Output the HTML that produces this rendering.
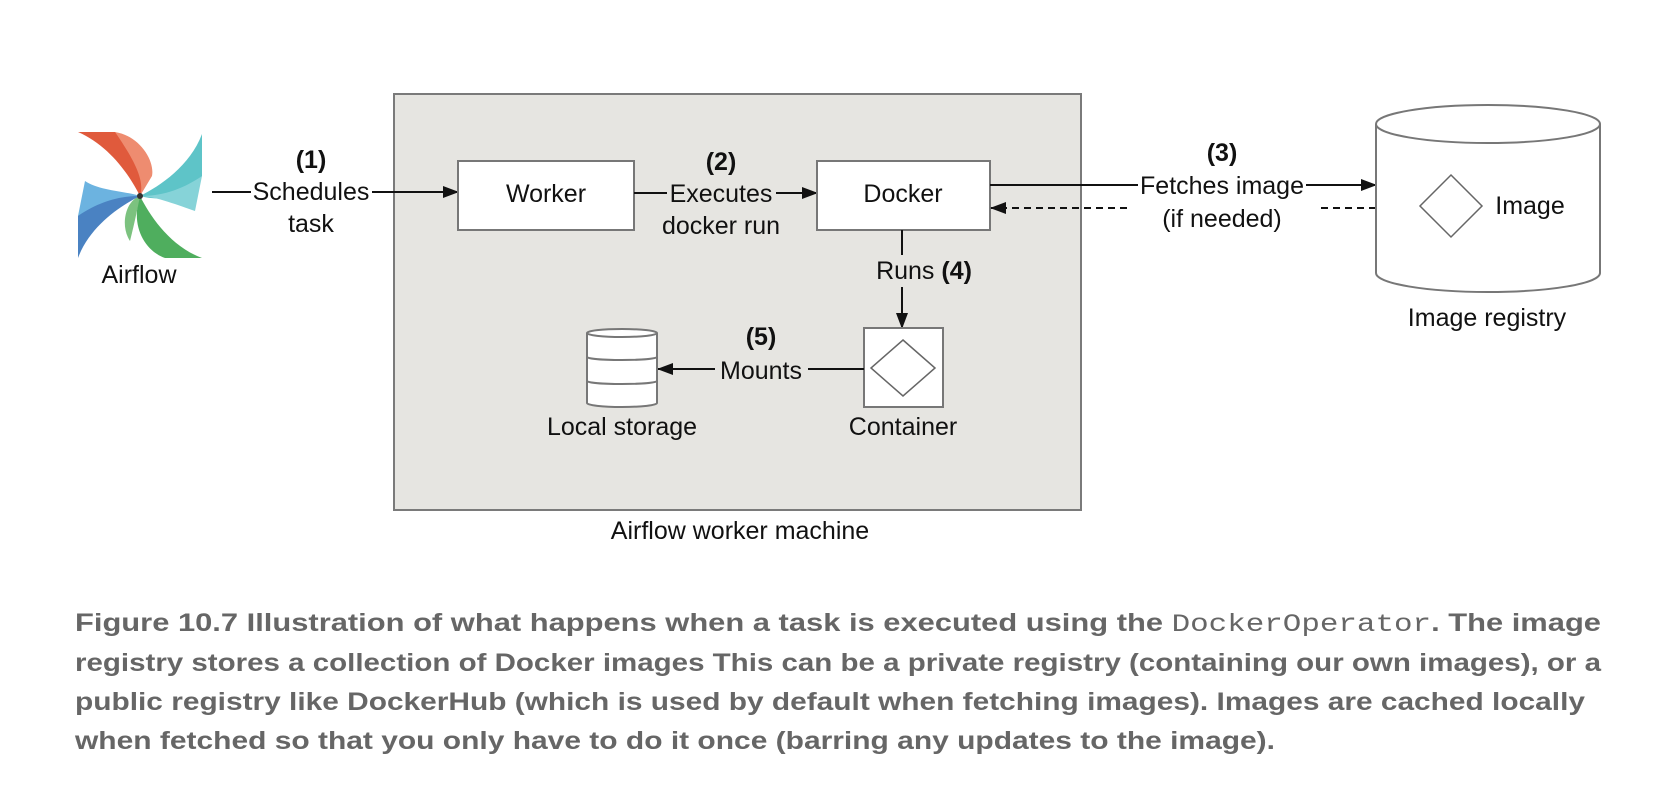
<!DOCTYPE html>
<html><head><meta charset="utf-8"><style>
html,body{margin:0;padding:0;background:#fff;width:1674px;height:792px;overflow:hidden}
svg{display:block}
text{font-family:"Liberation Sans",Arial,sans-serif;fill:#111}
.l{font-size:25px;text-anchor:middle}
.b{font-weight:bold}
.cap{font-size:25px;font-weight:bold;fill:#666}
</style></head><body>
<svg width="1674" height="792" viewBox="0 0 1674 792" xmlns="http://www.w3.org/2000/svg">
<defs>
<marker id="ah" markerWidth="16" markerHeight="12" refX="15" refY="6" orient="auto" markerUnits="userSpaceOnUse">
<path d="M0,0 L16,6 L0,12 Z" fill="#111"/></marker>
</defs>
<rect x="394" y="94" width="687" height="416" fill="#e6e5e1" stroke="#7a7a7a" stroke-width="2"/>
<text class="l" x="740" y="539">Airflow worker machine</text>

<g transform="translate(140,196)">
<path d="M0,0 C-10,-20 -30,-50 -62,-64 L-25,-64 C-5,-55 10,-30 0,0Z" fill="#e05a3c"/>
<path d="M0,0 C5,-15 -5,-35 -25,-64 C0,-60 15,-35 12,-20Z" fill="#ee8c70"/>
<path d="M0,0 C20,-10 50,-30 62,-62 L62,-20 C55,-5 30,8 0,0Z" fill="#5ec4c8"/>
<path d="M0,0 C15,0 40,10 55,15 L62,-20 C40,-5 20,0 0,0Z" fill="#86d3d8"/>
<path d="M0,0 C10,20 30,50 62,62 L25,62 C5,55 -10,30 0,0Z" fill="#4fae5e"/>
<path d="M0,0 C-15,5 -20,30 -10,45 C-5,25 -2,10 0,0Z" fill="#7cc27f"/>
<path d="M0,0 C-20,10 -50,30 -62,62 L-62,20 C-55,5 -30,-8 0,0Z" fill="#4a82c2"/>
<path d="M0,0 C-15,-5 -40,-5 -55,-15 L-62,20 C-40,5 -20,0 0,0Z" fill="#6cb3e0"/>
<circle cx="0" cy="0" r="3" fill="#333"/>
</g>
<text class="l" x="139" y="283">Airflow</text>

<text class="l b" x="311" y="168">(1)</text>
<text class="l" x="311" y="200">Schedules</text>
<text class="l" x="311" y="232">task</text>
<line x1="212" y1="192" x2="251" y2="192" stroke="#111" stroke-width="2"/>
<line x1="372" y1="192" x2="458" y2="192" stroke="#111" stroke-width="2" marker-end="url(#ah)"/>

<rect x="458" y="161" width="176" height="69" fill="#fff" stroke="#777" stroke-width="2"/>
<text class="l" x="546" y="202">Worker</text>

<text class="l b" x="721" y="170">(2)</text>
<text class="l" x="721" y="202">Executes</text>
<text class="l" x="721" y="234">docker run</text>
<line x1="634" y1="193" x2="667" y2="193" stroke="#111" stroke-width="2"/>
<line x1="776" y1="193" x2="817" y2="193" stroke="#111" stroke-width="2" marker-end="url(#ah)"/>

<rect x="817" y="161" width="173" height="69" fill="#fff" stroke="#777" stroke-width="2"/>
<text class="l" x="903" y="202">Docker</text>

<text class="l b" x="1222" y="161">(3)</text>
<text class="l" x="1222" y="194">Fetches image</text>
<text class="l" x="1222" y="227">(if needed)</text>
<line x1="990" y1="185" x2="1138" y2="185" stroke="#111" stroke-width="2"/>
<line x1="1306" y1="185" x2="1376" y2="185" stroke="#111" stroke-width="2" marker-end="url(#ah)"/>
<line x1="1127" y1="208" x2="991" y2="208" stroke="#111" stroke-width="2" stroke-dasharray="7,5" marker-end="url(#ah)"/>
<line x1="1376" y1="208" x2="1318" y2="208" stroke="#111" stroke-width="2" stroke-dasharray="7,5"/>

<path d="M1376,124 L1376,273 A112,19 0 0 0 1600,273 L1600,124" fill="#fff" stroke="#777" stroke-width="2"/>
<ellipse cx="1488" cy="124" rx="112" ry="19" fill="#fff" stroke="#777" stroke-width="2"/>
<polygon points="1451,175 1482,206 1451,237 1420,206" fill="#fff" stroke="#666" stroke-width="1.5"/>
<text class="l" x="1530" y="214">Image</text>
<text class="l" x="1487" y="326">Image registry</text>

<line x1="902" y1="230" x2="902" y2="255" stroke="#111" stroke-width="2"/>
<text class="l" x="924" y="279">Runs <tspan class="b">(4)</tspan></text>
<line x1="902" y1="287" x2="902" y2="328" stroke="#111" stroke-width="2" marker-end="url(#ah)"/>

<rect x="864" y="328" width="79" height="79" fill="#fff" stroke="#777" stroke-width="2"/>
<polygon points="903,340 935,368 903,396 871,368" fill="#fff" stroke="#666" stroke-width="1.5"/>
<text class="l" x="903" y="435">Container</text>

<text class="l b" x="761" y="345">(5)</text>
<text class="l" x="761" y="379">Mounts</text>
<line x1="864" y1="369" x2="808" y2="369" stroke="#111" stroke-width="2"/>
<line x1="715" y1="369" x2="658" y2="369" stroke="#111" stroke-width="2" marker-end="url(#ah)"/>

<path d="M587,333 L587,403 A35,4 0 0 0 657,403 L657,333" fill="#fff" stroke="#777" stroke-width="2"/>
<ellipse cx="622" cy="333" rx="35" ry="4" fill="#fff" stroke="#777" stroke-width="2"/>
<path d="M587,357 A35,3 0 0 0 657,357 M587,381 A35,3 0 0 0 657,381" fill="none" stroke="#777" stroke-width="2"/>
<text class="l" x="622" y="435">Local storage</text>

<text class="cap" x="75" y="631" textLength="1526" lengthAdjust="spacingAndGlyphs">Figure 10.7    Illustration of what happens when a task is executed using the <tspan font-family="Liberation Mono,monospace" font-weight="normal">DockerOperator</tspan>. The image</text>
<text class="cap" x="75" y="671" textLength="1526" lengthAdjust="spacingAndGlyphs">registry stores a collection of Docker images This can be a private registry (containing our own images), or a</text>
<text class="cap" x="75" y="710" textLength="1510" lengthAdjust="spacingAndGlyphs">public registry like DockerHub (which is used by default when fetching images). Images are cached locally</text>
<text class="cap" x="75" y="749" textLength="1200" lengthAdjust="spacingAndGlyphs">when fetched so that you only have to do it once (barring any updates to the image).</text>
</svg>
</body></html>
